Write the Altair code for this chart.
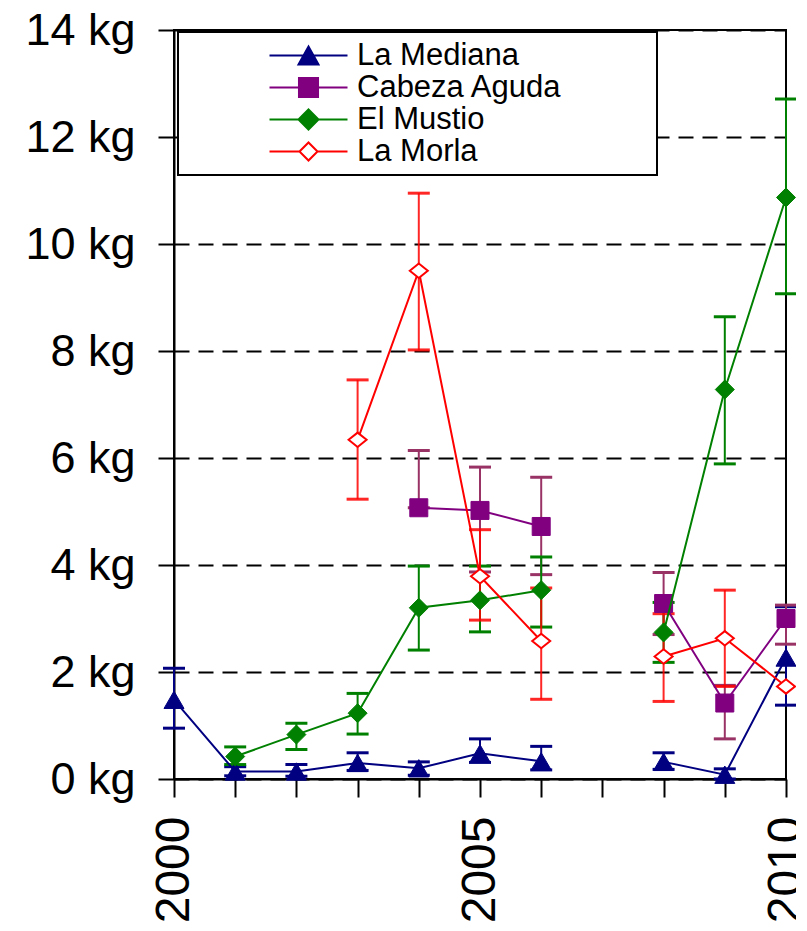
import altair as alt
import pandas as pd

YEARS = list(range(2000, 2011))
SERIES = ["La Mediana", "Cabeza Aguda", "El Mustio", "La Morla"]

mediana_val = [1.48, 0.14, 0.14, 0.30, 0.20, 0.48, 0.33, None, 0.32, 0.08, 2.27]
mediana_lo = [0.95, 0.06, 0.05, 0.16, 0.07, 0.31, 0.17, None, 0.18, 0.00, 1.38]
mediana_hi = [2.07, 0.23, 0.27, 0.49, 0.32, 0.75, 0.61, None, 0.49, 0.19, 3.22]

cabeza_val = [None, None, None, None, 5.07, 5.02, 4.72, None, 3.28, 1.42, 3.00]
cabeza_lo = [None, None, None, None, 5.07, 3.87, 3.82, None, 2.70, 0.75, 2.52]
cabeza_hi = [None, None, None, None, 6.14, 5.83, 5.64, None, 3.86, 1.75, 3.25]

mustio_val = [None, 0.42, 0.83, 1.23, 3.20, 3.34, 3.53, None, 2.74, 7.28, 10.87]
mustio_lo = [None, 0.27, 0.55, 0.84, 2.41, 2.75, 2.84, None, 2.18, 5.89, 9.07]
mustio_hi = [None, 0.60, 1.04, 1.60, 3.98, 3.98, 4.15, None, 3.30, 8.64, 12.71]

morla_val = [None, None, None, 6.34, 9.50, 3.79, 2.58, None, 2.29, 2.63, 1.73]
morla_lo = [None, None, None, 5.23, 8.02, 2.97, 1.49, None, 1.45, 1.73, None]
morla_hi = [None, None, None, 7.46, 10.95, 4.66, 3.57, None, 3.09, 3.53, None]

Y_TICKS = [0, 2, 4, 6, 8, 10, 12, 14]

rows = []
for name, vals, los, his in zip(
    SERIES,
    [mediana_val, cabeza_val, mustio_val, morla_val],
    [mediana_lo, cabeza_lo, mustio_lo, morla_lo],
    [mediana_hi, cabeza_hi, mustio_hi, morla_hi],
):
    for yr, v, lo, hi in zip(YEARS, vals, los, his):
        rows.append({"year": yr, "series": name, "value": v, "lo": lo, "hi": hi})
df = pd.DataFrame(rows)

# ---- styles ----
FONT = "Liberation Sans"
LINE_COLOR = {"La Mediana": "#000080", "Cabeza Aguda": "#800080",
              "El Mustio": "#008000", "La Morla": "#FF0000"}
ERR_COLOR = {"La Mediana": "#000080", "Cabeza Aguda": "#993366",
             "El Mustio": "#008000", "La Morla": "#FF0000"}
ERR_OPACITY = {"La Mediana": 1, "Cabeza Aguda": 1, "El Mustio": 1, "La Morla": 0.85}
MARKERS = {
    "La Mediana": dict(shape="triangle-up", size=400, filled=True,
                       fill="#000080", stroke="#000080", strokeWidth=1),
    "Cabeza Aguda": dict(shape="square", size=324, filled=True,
                         fill="#800080", stroke="#800080", strokeWidth=1),
    "El Mustio": dict(shape="diamond", size=361, filled=True,
                      fill="#008000", stroke="#008000", strokeWidth=1),
    "La Morla": dict(shape="M-1,0L0,-0.8L1,0L0,0.8Z", size=324, filled=False,
                     fill="#FFFFFF", stroke="#FF0000", strokeWidth=2),
}

# legend symbols: line + marker (invisible moveTo points set the legend box extent)
EXT = "M-8.71,0M23.98,0"
LEG_PATHS = [
    EXT + "M-2.786,0H2.786M0,-0.643L0.714,0.643L-0.714,0.643Z",
    EXT + "M-2.786,0H2.786M-0.68,-0.68H0.68V0.68H-0.68Z",
    EXT + "M-2.786,0H2.786M-0.714,0L0,-0.714L0.714,0L0,0.714Z",
    EXT + "M-2.786,0H-0.643M0.643,0H2.786M-0.643,0L0,-0.643L0.643,0L0,0.643Z",
]
LEG_FILL = ["#000080", "#800080", "#008000", "#FFFFFF"]
LEG_STROKE = ["#000080", "#800080", "#008000", "#FF0000"]

x_axis = alt.Axis(values=YEARS, format="d",
                  labelExpr="datum.value % 5 === 0 ? datum.label : ''",
                  labelAngle=-90, labelFontSize=48, labelPadding=19, tickSize=18,
                  grid=False, labelFlush=False, labelOverlap=False, title=None)
y_axis = alt.Axis(values=Y_TICKS, labelExpr="datum.value + ' kg'",
                  labelFontSize=45, labelPadding=23, tickSize=16,
                  grid=True, gridDash=[15, 9], gridColor="black", gridWidth=2,
                  labelFlush=False, title=None)
x_scale = alt.Scale(domain=[2000, 2010], nice=False, zero=False)
y_scale = alt.Scale(domain=[0, 14], nice=False)


def X():
    return alt.X("year:Q", scale=x_scale, axis=x_axis, title=None)


def Y(field):
    return alt.Y(f"{field}:Q", scale=y_scale, axis=y_axis, title=None)


base = alt.Chart(df)
layers = []

# error bars first (all series)
for name in SERIES:
    sub = base.transform_filter(alt.datum.series == name).transform_filter(
        "isValid(datum.lo) && isValid(datum.hi)")
    c = ERR_COLOR[name]
    op = ERR_OPACITY[name]
    layers.append(sub.mark_rule(color=c, strokeWidth=2, opacity=op).encode(
        x=X(), y=Y("lo"), y2="hi:Q"))
    layers.append(sub.mark_tick(orient="horizontal", size=22, thickness=3,
                                color=c, opacity=op).encode(x=X(), y=Y("lo")))
    layers.append(sub.mark_tick(orient="horizontal", size=22, thickness=3,
                                color=c, opacity=op).encode(x=X(), y=Y("hi")))

# lines and markers
for name in SERIES:
    sub = base.transform_filter(alt.datum.series == name).transform_filter(
        "isValid(datum.value)").transform_calculate(seg="datum.year > 2007 ? 1 : 0")
    layers.append(sub.mark_line(color=LINE_COLOR[name], strokeWidth=2).encode(
        x=X(), y=Y("value"), detail="seg:N"))
    m = MARKERS[name]
    layers.append(sub.mark_point(opacity=1, fillOpacity=1, **m).encode(
        x=X(), y=Y("value")))

# legend layer (no visible marks)
leg = alt.Legend(title=None, orient="none", legendX=4, legendY=2, padding=8,
                 strokeColor="black", fillColor="white",
                 labelFont=FONT, labelFontSize=31, labelColor="black",
                 labelOffset=33, symbolOffset=107, symbolSize=784,
                 symbolStrokeWidth=2, rowPadding=0, labelLimit=1000,
                 symbolOpacity=1, symbolFillColor="white", symbolStrokeColor="black")
legend_df = pd.DataFrame({"series": SERIES})
layers.append(
    alt.Chart(legend_df).transform_filter("false").mark_point(filled=True, strokeWidth=2).encode(
        fill=alt.Fill("series:N", scale=alt.Scale(domain=SERIES, range=LEG_FILL), legend=leg),
        stroke=alt.Stroke("series:N", scale=alt.Scale(domain=SERIES, range=LEG_STROKE), legend=leg),
        shape=alt.Shape("series:N", scale=alt.Scale(domain=SERIES, range=LEG_PATHS), legend=leg),
    )
)

chart = alt.layer(*layers).properties(
    width=612, height=749,
    autosize=alt.AutoSizeParams(type="none"),
    padding={"left": 166, "top": 22, "right": 10, "bottom": 150},
).configure_view(
    stroke="black", strokeWidth=2
).configure_axis(
    domainColor="black", domainWidth=2, tickColor="black", tickWidth=2,
    labelColor="black", labelFont=FONT
).configure_legend(
    strokeWidth=2
)

chart.save("out.html", embed_options={"renderer": "svg", "actions": False})
